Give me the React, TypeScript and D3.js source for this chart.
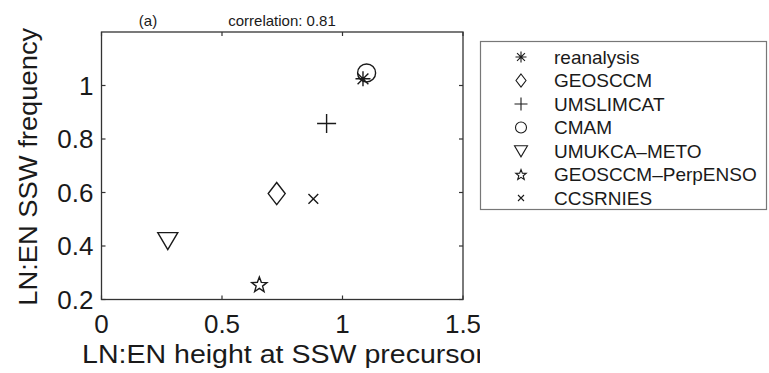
import React from 'react';
import * as d3 from 'd3';

// model names, marker kind, and values
const models = ['reanalysis', 'GEOSCCM', 'UMSLIMCAT', 'CMAM', 'UMUKCA\u2013METO', 'GEOSCCM\u2013PerpENSO', 'CCSRNIES'];
const markers = ['asterisk', 'diamond', 'plus', 'circle', 'triangle', 'star', 'cross'];
const heightRatio = [1.085, 0.727, 0.934, 1.10, 0.275, 0.655, 0.879];
const frequencyRatio = [1.025, 0.596, 0.858, 1.047, 0.42, 0.257, 0.576];

const xTicks = [0, 0.5, 1, 1.5];
const yTicks = [0.2, 0.4, 0.6, 0.8, 1];

const W = 769;
const H = 373;
const plot = { left: 101.5, right: 463, top: 32, bottom: 299.5 };
const font = '"Liberation Sans", Arial, Helvetica, sans-serif';
const ink = '#1a1a1a';

// marker outlines centred on 0,0; s = overall size in px
function markerPath(kind: string, s: number): string {
  const h = s / 2;
  const p = d3.path();
  if (kind === 'asterisk') {
    const d = h * 0.72;
    p.moveTo(-h, 0); p.lineTo(h, 0);
    p.moveTo(0, -h); p.lineTo(0, h);
    p.moveTo(-d, -d); p.lineTo(d, d);
    p.moveTo(-d, d); p.lineTo(d, -d);
  } else if (kind === 'diamond') {
    p.moveTo(0, -h * 1.3); p.lineTo(h, 0); p.lineTo(0, h * 1.3); p.lineTo(-h, 0); p.closePath();
  } else if (kind === 'plus') {
    p.moveTo(-h, 0); p.lineTo(h, 0);
    p.moveTo(0, -h); p.lineTo(0, h);
  } else if (kind === 'circle') {
    p.moveTo(h, 0); p.arc(0, 0, h, 0, Math.PI * 2);
  } else if (kind === 'triangle') {
    p.moveTo(-h, -h * 0.8); p.lineTo(h, -h * 0.8); p.lineTo(0, h * 0.9); p.closePath();
  } else if (kind === 'star') {
    for (let i = 0; i < 10; i++) {
      const r = i % 2 === 0 ? h : h * 0.42;
      const a = -Math.PI / 2 + (i * Math.PI) / 5;
      const px = r * Math.cos(a);
      const py = r * Math.sin(a) + h * 0.1;
      if (i === 0) p.moveTo(px, py); else p.lineTo(px, py);
    }
    p.closePath();
  } else if (kind === 'cross') {
    const d = h * 0.75;
    p.moveTo(-d, -d); p.lineTo(d, d);
    p.moveTo(-d, d); p.lineTo(d, -d);
  }
  return p.toString();
}

const plotSize: Record<string, number> = {
  asterisk: 15, diamond: 17, plus: 19, circle: 18, triangle: 20, star: 16, cross: 13,
};
const legendSize: Record<string, number> = {
  asterisk: 11, diamond: 10, plus: 13, circle: 11, triangle: 13, star: 11, cross: 8,
};

export default function App() {
  const x = d3.scaleLinear().domain([0, 1.5]).range([plot.left, plot.right]);
  const y = d3.scaleLinear().domain([0.2, 1.2]).range([plot.bottom, plot.top]);
  const tickLen = 4;

  const legend = { x: 480.5, y: 41.5, w: 286, h: 168, rowY: 57, rowStep: 23.5, markX: 521, textX: 554 };

  return (
    <svg width={W} height={H} style={{ position: 'absolute', left: 0, top: 0, background: '#fff' }}>
      <defs>
        <clipPath id="left-panel">
          <rect x={0} y={0} width={480} height={H} />
        </clipPath>
      </defs>
      <rect width={W} height={H} fill="#fff" />

      <g clipPath="url(#left-panel)" fontFamily={font} fill={ink}>
        {/* titles */}
        <text x={148} y={26} fontSize={15} textAnchor="middle">(a)</text>
        <text x={282} y={26} fontSize={15} textAnchor="middle">correlation: 0.81</text>

        {/* frame with inward ticks on all sides */}
        <rect x={plot.left} y={plot.top} width={plot.right - plot.left} height={plot.bottom - plot.top}
          fill="none" stroke="#333" strokeWidth={1.3} />
        {xTicks.map((t) => (
          <g key={`xt${t}`}>
            <line x1={x(t)} x2={x(t)} y1={plot.bottom} y2={plot.bottom - tickLen} stroke="#333" strokeWidth={1.2} />
            <line x1={x(t)} x2={x(t)} y1={plot.top} y2={plot.top + tickLen} stroke="#333" strokeWidth={1.2} />
            <text x={x(t)} y={plot.bottom + 33} fontSize={26} textAnchor="middle">{d3.format('~g')(t)}</text>
          </g>
        ))}
        {yTicks.map((t) => (
          <g key={`yt${t}`}>
            <line x1={plot.left} x2={plot.left + tickLen} y1={y(t)} y2={y(t)} stroke="#333" strokeWidth={1.2} />
            <line x1={plot.right} x2={plot.right - tickLen} y1={y(t)} y2={y(t)} stroke="#333" strokeWidth={1.2} />
            <text x={plot.left - 8} y={y(t)} dy="0.35em" fontSize={26} textAnchor="end">{d3.format('~g')(t)}</text>
          </g>
        ))}

        {/* axis labels */}
        <text x={82} y={363} fontSize={25} textLength={403} lengthAdjust="spacingAndGlyphs">
          LN:EN height at SSW precursor
        </text>
        <text transform={`translate(37, ${(plot.top + plot.bottom) / 2 + 1}) rotate(-90)`} fontSize={25}
          textAnchor="middle" textLength={278} lengthAdjust="spacingAndGlyphs">
          LN:EN SSW frequency
        </text>

        {/* model points */}
        {models.map((m, i) => (
          <path key={m} d={markerPath(markers[i], plotSize[markers[i]])}
            transform={`translate(${x(heightRatio[i])}, ${y(frequencyRatio[i])})`}
            fill="none" stroke={ink} strokeWidth={1.4} strokeLinejoin="miter" />
        ))}
      </g>

      {/* legend */}
      <g fontFamily={font}>
        <rect x={legend.x} y={legend.y} width={legend.w} height={legend.h} fill="#fff" stroke="#777" strokeWidth={1.2} />
        {models.map((m, i) => {
          const ry = legend.rowY + i * legend.rowStep;
          return (
            <g key={`lg${m}`}>
              <path d={markerPath(markers[i], legendSize[markers[i]])} transform={`translate(${legend.markX}, ${ry})`}
                fill="none" stroke={ink} strokeWidth={1.1} />
              <text x={legend.textX} y={ry} dy="0.36em" fontSize={19} fill={ink}>{m}</text>
            </g>
          );
        })}
      </g>
    </svg>
  );
}
